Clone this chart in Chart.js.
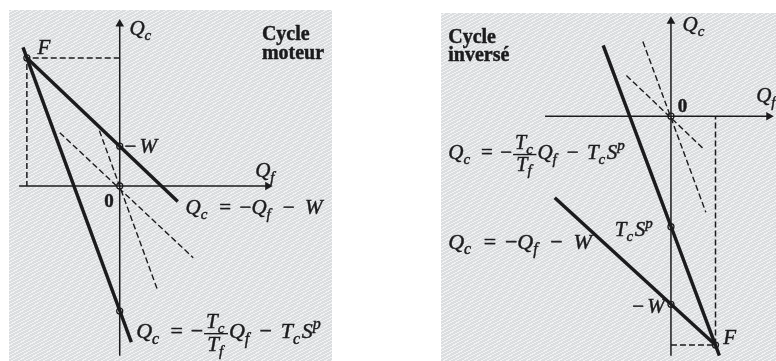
<!DOCTYPE html>
<html>
<head>
<meta charset="utf-8">
<script src="https://cdn.jsdelivr.net/npm/chart.js@4"></script>
<style>
html, body { margin:0; padding:0; background:#fff; }
body { width:776px; height:361px; position:relative; overflow:hidden; }
.panel {
  position:absolute;
  background-color:#e4e6e8;
  background-image:repeating-linear-gradient(-28deg, rgba(255,255,255,0.5) 0 1px, rgba(110,115,120,0.08) 1px 3px);
}
#p1 { left:9px; top:10px; width:323px; height:351px; }
#p2 { left:441px; top:13px; width:335px; height:348px; }
canvas { display:block; }
</style>
</head>
<body>
<div class="panel" id="p1"><canvas id="moteur" width="323" height="351"></canvas></div>
<div class="panel" id="p2"><canvas id="inverse" width="335" height="348"></canvas></div>
<script>
// Cycle moteur (Qf horizontal, Qc vertical, origin at the axes crossing)
const motQcAxis = [{x:0, y:-175}, {x:0, y:166}];
const motQfAxis = [{x:-104, y:0}, {x:152, y:0}];
const motArrows = [{x:0, y:167}, {x:153, y:0}];
const motLineW  = [{x:-96, y:132}, {x:60, y:-16}];      // Qc = -Qf - W
const motLineS  = [{x:-100, y:143}, {x:12, y:-161}];    // Qc = -Tc/Tf Qf - Tc Sp
const motDashA  = [{x:-62, y:55}, {x:76, y:-74}];
const motDashB  = [{x:-21, y:57}, {x:39, y:-107}];
const motGuide  = [{x:0, y:132}, {x:-96, y:132}, {x:-96, y:0}];
const motMarks  = [{x:-96, y:132}, {x:0, y:41}, {x:0, y:0}, {x:0, y:-129}];

// Cycle inversé
const invQcAxis = [{x:0, y:-247}, {x:0, y:97}];
const invQfAxis = [{x:-130, y:0}, {x:100, y:0}];
const invArrows = [{x:0, y:98}, {x:101, y:0}];
const invLineS  = [{x:-70, y:73}, {x:50, y:-247}];
const invLineW  = [{x:-120, y:-84}, {x:46, y:-236}];
const invDashA  = [{x:-29, y:77}, {x:36, y:-99}];
const invDashB  = [{x:-46, y:42}, {x:34, y:-34}];
const invGuide  = [{x:0, y:-236}, {x:46, y:-236}, {x:46, y:0}];
const invMarks  = [{x:0, y:0}, {x:0, y:-114}, {x:0, y:-194}, {x:46, y:-236}];

const INK = '#1b1b1d';
const SERIF = '"Liberation Serif", "DejaVu Serif", serif';

// little math text helpers
const I  = t => ({t, f:'i'});
const R  = t => ({t, f:'r'});
const B  = t => ({t, f:'b'});
const SB = t => ({t, f:'sub'});
const SP = t => ({t, f:'sup'});
const G  = em => ({gap:em});
const FR = (n, d) => ({frac:[n, d]});

function fontFor(tok, size) {
  if (tok.f === 'r') return size + 'px ' + SERIF;
  if (tok.f === 'b') return 'bold ' + size + 'px ' + SERIF;
  if (tok.f === 'sub' || tok.f === 'sup') return 'italic ' + Math.round(size * 0.72) + 'px ' + SERIF;
  return 'italic ' + size + 'px ' + SERIF;
}

function tokWidth(ctx, tok, size) {
  if (tok.gap !== undefined) return tok.gap * size;
  if (tok.frac) {
    const fs = size * 0.96;
    return Math.max(mathWidth(ctx, tok.frac[0], fs), mathWidth(ctx, tok.frac[1], fs)) + 6;
  }
  ctx.font = fontFor(tok, size);
  return ctx.measureText(tok.t).width + (tok.f === 'sub' ? 1.5 : 0);
}

function mathWidth(ctx, toks, size) {
  return toks.reduce((s, tok) => s + tokWidth(ctx, tok, size), 0);
}

function drawMath(ctx, toks, x, y, size) {
  toks.forEach(tok => {
    const w = tokWidth(ctx, tok, size);
    if (tok.frac) {
      const fs = size * 0.96;
      const wn = mathWidth(ctx, tok.frac[0], fs), wd = mathWidth(ctx, tok.frac[1], fs);
      const bar = y - size * 0.24;
      ctx.fillRect(x + 1, bar, w - 2, 1.4);
      drawMath(ctx, tok.frac[0], x + (w - wn) / 2, bar - size * 0.22, fs);
      drawMath(ctx, tok.frac[1], x + (w - wd) / 2, bar + size * 0.8, fs);
    } else if (tok.t) {
      ctx.font = fontFor(tok, size);
      let dy = 0;
      if (tok.f === 'sub') dy = size * 0.24;
      if (tok.f === 'sup') dy = -size * 0.4;
      ctx.fillText(tok.t, x, y + dy);
      ctx.strokeText(tok.t, x, y + dy);
    }
    x += w;
  });
}

const eqW = [I('Q'), SB('c'), G(0.5), R('='), G(0.4), R('−'), I('Q'), SB('f'),
             G(0.5), R('−'), G(0.5), I('W')];
const eqS = [I('Q'), SB('c'), G(0.45), R('='), G(0.35), R('−'),
             FR([I('T'), SB('c')], [I('T'), SB('f')]),
             I('Q'), SB('f'), G(0.4), R('−'), G(0.4), I('T'), SB('c'), I('S'), SP('p')];

const motLabels = [
  {toks:[I('Q'), SB('c')], x:10, y:156, size:21},
  {toks:[I('F')], x:-85, y:136, size:21},
  {toks:[R('−'), G(0.15), I('W')], x:5, y:34, size:21},
  {toks:[B('0')], x:-16, y:-22, size:19},
  {toks:[I('Q'), SB('f')], x:140, y:9, size:21},
  {toks:eqW, x:68, y:-29, size:21},
  {toks:eqS, x:17, y:-157, size:22},
  {toks:[B('Cycle')], x:147, y:151, size:20},
  {toks:[B('moteur')], x:147, y:131, size:20}
];

const invLabels = [
  {toks:[I('Q'), SB('c')], x:12, y:88, size:21},
  {toks:[B('0')], x:7, y:4, size:19},
  {toks:[I('Q'), SB('f')], x:88, y:15, size:21},
  {toks:[B('Cycle')], x:-230, y:76, size:20},
  {toks:[B('inversé')], x:-230, y:57, size:20},
  {toks:eqS, x:-230, y:-44, size:21},
  {toks:eqW, x:-230, y:-137, size:22},
  {toks:[I('T'), SB('c'), I('S'), SP('p')], x:-58, y:-124, size:21},
  {toks:[R('−'), G(0.15), I('W')], x:-40, y:-203, size:21},
  {toks:[I('F')], x:54, y:-235, size:21}
];

// writes the labels at data positions
const mathLabels = {
  id: 'mathLabels',
  afterDatasetsDraw(chart, args, opts) {
    const ctx = chart.ctx;
    const xs = chart.scales.x, ys = chart.scales.y;
    ctx.save();
    ctx.fillStyle = INK;
    ctx.strokeStyle = INK;
    ctx.lineWidth = 0.45;
    ctx.textBaseline = 'alphabetic';
    ctx.textAlign = 'left';
    opts.items.forEach(l => {
      let px = xs.getPixelForValue(l.x);
      const py = ys.getPixelForValue(l.y);
      if (l.align === 'right') px -= mathWidth(ctx, l.toks, l.size);
      drawMath(ctx, l.toks, px, py, l.size);
    });
    ctx.restore();
  }
};

function seg(data, width, dash) {
  return {data, showLine:true, borderColor:INK, borderWidth:width, borderDash:dash || [],
          pointRadius:0, borderCapStyle:'butt', clip:false};
}

function makePanel(id, view, sets, labels) {
  const ds = [
    seg(sets.qc, 1.5), seg(sets.qf, 1.5),
    {data:sets.arrows, pointStyle:'triangle', pointRadius:5, pointRotation:[0, 90],
     backgroundColor:INK, borderColor:INK, borderWidth:0, clip:false},
    seg(sets.dashA, 1.4, [6, 3]), seg(sets.dashB, 1.4, [6, 3]),
    seg(sets.guide, 1.5, [6, 3]),
    seg(sets.lineW, 3.4), seg(sets.lineS, 3.4),
    {data:sets.marks, pointRadius:3, backgroundColor:'#ffffff', borderColor:INK,
     borderWidth:1.3, clip:false}
  ];
  new Chart(document.getElementById(id), {
    type:'scatter',
    data:{datasets:ds},
    options:{
      responsive:false, animation:false, events:[],
      layout:{padding:0},
      scales:{
        x:{type:'linear', display:false, min:view.x0, max:view.x1},
        y:{type:'linear', display:false, min:view.y0, max:view.y1}
      },
      plugins:{legend:{display:false}, tooltip:{enabled:false}, mathLabels:{items:labels}}
    },
    plugins:[mathLabels]
  });
}

makePanel('moteur', {x0:-109, x1:214, y0:-175, y1:176}, {
  qc:motQcAxis, qf:motQfAxis, arrows:motArrows, lineW:motLineW, lineS:motLineS,
  dashA:motDashA, dashB:motDashB, guide:motGuide, marks:motMarks
}, motLabels);

makePanel('inverse', {x0:-232, x1:103, y0:-247, y1:101}, {
  qc:invQcAxis, qf:invQfAxis, arrows:invArrows, lineW:invLineW, lineS:invLineS,
  dashA:invDashA, dashB:invDashB, guide:invGuide, marks:invMarks
}, invLabels);
</script>
</body>
</html>
